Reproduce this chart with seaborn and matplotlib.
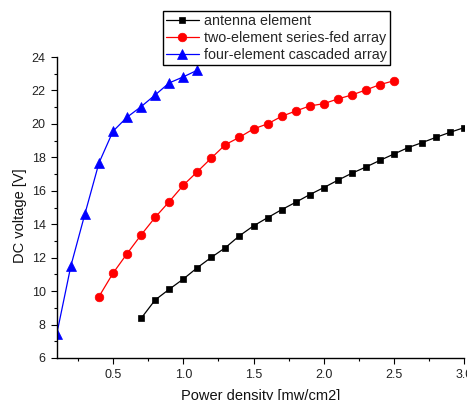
import matplotlib
matplotlib.use("Agg")
import matplotlib.pyplot as plt
from matplotlib.ticker import MultipleLocator
import numpy as np
import pandas as pd
import seaborn as sns

# Measured DC output voltage versus incident power density
series_names = ["antenna element", "two-element series-fed array", "four-element cascaded array"]

antenna_x = [0.7, 0.8, 0.9, 1.0, 1.1, 1.2, 1.3, 1.4, 1.5, 1.6, 1.7, 1.8,
             1.9, 2.0, 2.1, 2.2, 2.3, 2.4, 2.5, 2.6, 2.7, 2.8, 2.9, 3.0]
antenna_v = [8.37, 9.47, 10.11, 10.72, 11.40, 12.02, 12.60, 13.31, 13.90, 14.39, 14.87, 15.31,
             15.77, 16.19, 16.63, 17.05, 17.42, 17.82, 18.20, 18.58, 18.88, 19.20, 19.50, 19.78]

two_x = [0.4, 0.5, 0.6, 0.7, 0.8, 0.9, 1.0, 1.1, 1.2, 1.3, 1.4,
         1.5, 1.6, 1.7, 1.8, 1.9, 2.0, 2.1, 2.2, 2.3, 2.4, 2.5]
two_v = [9.67, 11.07, 12.24, 13.36, 14.41, 15.35, 16.33, 17.14, 17.96, 18.76, 19.20,
         19.70, 20.00, 20.45, 20.77, 21.07, 21.21, 21.49, 21.73, 22.03, 22.35, 22.58]

four_x = [0.1, 0.2, 0.3, 0.4, 0.5, 0.6, 0.7, 0.8, 0.9, 1.0, 1.1]
four_v = [7.44, 11.50, 14.61, 17.66, 19.56, 20.40, 21.03, 21.73, 22.45, 22.81, 23.21]

df = pd.concat([
    pd.DataFrame({"power": antenna_x, "voltage": antenna_v, "series": series_names[0]}),
    pd.DataFrame({"power": two_x, "voltage": two_v, "series": series_names[1]}),
    pd.DataFrame({"power": four_x, "voltage": four_v, "series": series_names[2]}),
], ignore_index=True)

sns.set_style("ticks")
plt.rcParams["font.family"] = ["Liberation Sans", "DejaVu Sans"]

colors = {series_names[0]: "#000000", series_names[1]: "#ff0000", series_names[2]: "#0000ff"}
markers = {series_names[0]: "s", series_names[1]: "o", series_names[2]: "^"}
msizes = {series_names[0]: 5.0, series_names[1]: 6.2, series_names[2]: 7.0}

fig = plt.figure(figsize=(4.67, 4.0), dpi=100)
ax = fig.add_axes([0.1216, 0.105, 0.8726, 0.7525])

for name in series_names:
    sub = df[df["series"] == name]
    sns.lineplot(data=sub, x="power", y="voltage", ax=ax, color=colors[name],
                 marker=markers[name], markersize=msizes[name],
                 markeredgecolor=colors[name], markeredgewidth=0.5,
                 linewidth=0.9, label=name, estimator=None, sort=False)

ax.set_xlim(0.1, 3.0)
ax.set_ylim(6, 24)
ax.xaxis.set_major_locator(MultipleLocator(0.5))
ax.xaxis.set_minor_locator(MultipleLocator(0.25))
ax.yaxis.set_major_locator(MultipleLocator(2))
ax.yaxis.set_minor_locator(MultipleLocator(1))
ax.xaxis.set_major_formatter(matplotlib.ticker.FormatStrFormatter("%.1f"))

for side in ["top", "right"]:
    ax.spines[side].set_visible(False)
for side in ["left", "bottom"]:
    ax.spines[side].set_linewidth(1.0)
    ax.spines[side].set_color("black")

ax.tick_params(which="major", direction="out", length=4, width=0.8,
               labelsize=9, pad=4, colors="black", labelcolor="#222222")
ax.tick_params(which="minor", direction="out", length=2.5, width=0.8, colors="black")

ax.set_xlabel("Power density [mw/cm2]", fontsize=10.5, color="#111111")
ax.set_ylabel("DC voltage [V]", fontsize=10.5, color="#111111")
ax.xaxis.set_label_coords(0.5, -0.102)
ax.yaxis.set_label_coords(-0.072, 0.472)

leg = ax.legend(loc="upper left", bbox_to_anchor=(163 / 467, 1 - 11 / 400),
                bbox_transform=fig.transFigure, fontsize=10.3, frameon=True,
                fancybox=False, borderaxespad=0, handlelength=2.3,
                handletextpad=0.35, borderpad=0.2, labelspacing=0.22)
leg.get_frame().set_edgecolor("black")
leg.get_frame().set_linewidth(1.0)
leg.get_frame().set_alpha(1)

fig.savefig("out.png", dpi=100)
